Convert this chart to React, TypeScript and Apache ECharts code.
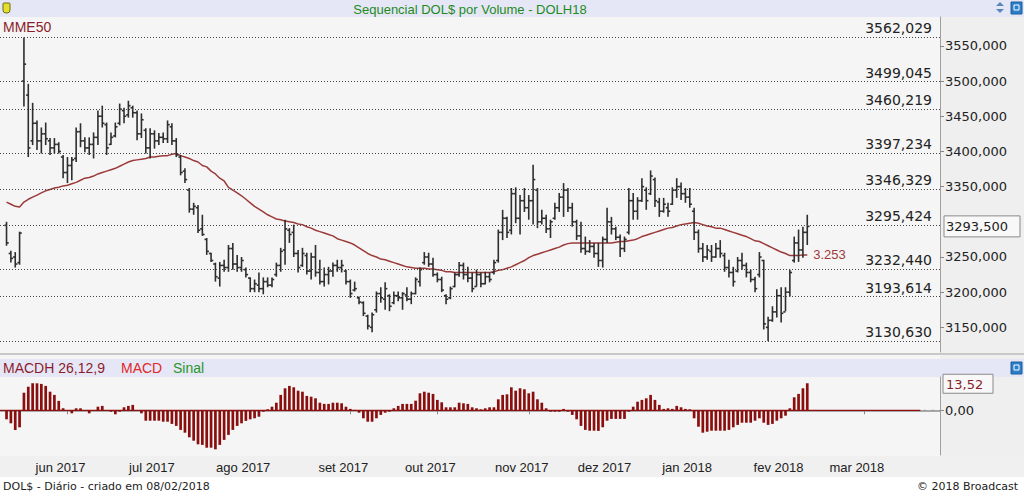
import React, { useEffect, useRef } from 'react';
import * as echarts from 'echarts';

// ---------- data (i = 0 is 12 May 2017, last bar 8 Feb 2018) ----------
const highs = [
  3300, 3259, 3257, 3286, 3562.029, 3496, 3469, 3444, 3434, 3441,
  3419, 3419, 3413, 3395, 3392, 3392, 3434, 3440, 3420, 3420,
  3427, 3458, 3465, 3441, 3427, 3441, 3468, 3462, 3472, 3465,
  3458, 3454, 3433, 3433, 3430, 3426, 3427, 3444, 3440, 3419,
  3395, 3376, 3348, 3327, 3324, 3310, 3277, 3256, 3242, 3243,
  3246, 3267, 3270, 3253, 3250, 3235, 3221, 3218, 3228, 3221,
  3221, 3221, 3242, 3263, 3303, 3291, 3296, 3260, 3263, 3256,
  3256, 3267, 3246, 3235, 3236, 3242, 3246, 3246, 3232, 3218,
  3215, 3194, 3187, 3168, 3171, 3201, 3207, 3214, 3197, 3201,
  3201, 3200, 3207, 3201, 3221, 3235, 3257, 3256, 3249, 3228,
  3222, 3197, 3208, 3228, 3243, 3242, 3236, 3228, 3232, 3228,
  3229, 3228, 3246, 3289, 3317, 3307, 3348, 3349, 3338, 3348,
  3338, 3381, 3348, 3317, 3310, 3303, 3327, 3341, 3355, 3348,
  3327, 3303, 3300, 3279, 3274, 3270, 3270, 3279, 3320, 3307,
  3293, 3282, 3279, 3348, 3341, 3335, 3362, 3349, 3373, 3363,
  3334, 3334, 3327, 3349, 3362, 3356, 3348, 3348, 3320, 3289,
  3270, 3267, 3267, 3270, 3274, 3256, 3246, 3236, 3250, 3256,
  3242, 3232, 3222, 3257, 3246, 3165, 3180, 3204, 3207, 3207,
  3232, 3279, 3289, 3293, 3310,
];
const lows = [
  3266, 3242, 3235, 3239, 3464, 3392, 3409, 3402, 3397, 3409,
  3395, 3397, 3397, 3362, 3355, 3359, 3385, 3406, 3399, 3395,
  3390, 3409, 3434, 3395, 3409, 3420, 3437, 3440, 3448, 3448,
  3416, 3419, 3397, 3390, 3404, 3409, 3412, 3412, 3409, 3392,
  3366, 3355, 3313, 3310, 3284, 3280, 3253, 3243, 3215, 3208,
  3229, 3229, 3232, 3229, 3229, 3221, 3200, 3200, 3200, 3197,
  3207, 3207, 3222, 3229, 3239, 3270, 3250, 3228, 3236, 3225,
  3218, 3222, 3211, 3208, 3211, 3222, 3229, 3228, 3211, 3192,
  3201, 3183, 3166, 3147, 3143, 3171, 3185, 3175, 3173, 3183,
  3187, 3175, 3187, 3183, 3197, 3208, 3239, 3236, 3222, 3214,
  3200, 3183, 3190, 3207, 3222, 3218, 3214, 3200, 3208, 3207,
  3211, 3214, 3225, 3242, 3274, 3277, 3282, 3298, 3282, 3314,
  3303, 3296, 3291, 3296, 3284, 3277, 3303, 3314, 3307, 3314,
  3293, 3274, 3256, 3253, 3256, 3249, 3236, 3235, 3270, 3282,
  3274, 3250, 3257, 3282, 3303, 3303, 3328, 3317, 3338, 3321,
  3307, 3313, 3307, 3324, 3334, 3331, 3327, 3320, 3274, 3256,
  3243, 3246, 3243, 3249, 3249, 3229, 3221, 3208, 3228, 3232,
  3221, 3214, 3200, 3221, 3147, 3130.63, 3158, 3164, 3157, 3173,
  3194, 3242, 3243, 3249, 3267,
];
const opens = [
  3295, 3255, 3250, 3242, 3500, 3480, 3415, 3440, 3415, 3425,
  3415, 3405, 3410, 3392, 3370, 3380, 3390, 3428, 3415, 3405,
  3410, 3420, 3450, 3438, 3410, 3422, 3440, 3458, 3452, 3462,
  3455, 3425, 3430, 3405, 3425, 3415, 3420, 3418, 3435, 3415,
  3392, 3372, 3345, 3318, 3320, 3290, 3275, 3255, 3240, 3220,
  3238, 3235, 3262, 3240, 3235, 3232, 3220, 3205, 3210, 3205,
  3215, 3210, 3225, 3238, 3260, 3288, 3285, 3255, 3238, 3252,
  3230, 3250, 3228, 3215, 3225, 3230, 3238, 3235, 3230, 3215,
  3203, 3192, 3185, 3166, 3150, 3175, 3198, 3190, 3195, 3185,
  3195, 3192, 3196, 3190, 3198, 3215, 3242, 3250, 3240, 3225,
  3218, 3195, 3192, 3208, 3225, 3238, 3225, 3220, 3208, 3225,
  3212, 3222, 3228, 3245, 3285, 3305, 3288, 3340, 3305, 3330,
  3320, 3330, 3345, 3300, 3305, 3290, 3305, 3320, 3335, 3345,
  3320, 3300, 3280, 3262, 3258, 3265, 3255, 3245, 3275, 3300,
  3290, 3278, 3262, 3285, 3330, 3315, 3330, 3345, 3340, 3360,
  3328, 3315, 3320, 3325, 3345, 3350, 3340, 3335, 3315, 3285,
  3262, 3250, 3258, 3250, 3262, 3252, 3235, 3228, 3230, 3245,
  3238, 3228, 3218, 3225, 3245, 3150, 3160, 3172, 3195, 3172,
  3200, 3245, 3270, 3260, 3285,
];
const closes = [
  3270, 3248, 3240, 3284, 3524, 3405, 3440, 3415, 3425, 3418,
  3405, 3410, 3400, 3370, 3380, 3388, 3428, 3415, 3405, 3410,
  3420, 3450, 3440, 3405, 3420, 3435, 3460, 3450, 3465, 3455,
  3425, 3445, 3405, 3425, 3415, 3420, 3418, 3438, 3415, 3395,
  3370, 3360, 3318, 3322, 3288, 3282, 3258, 3245, 3222, 3238,
  3235, 3262, 3240, 3235, 3245, 3225, 3205, 3212, 3205, 3215,
  3210, 3218, 3238, 3258, 3290, 3282, 3255, 3235, 3255, 3230,
  3250, 3228, 3215, 3225, 3230, 3238, 3235, 3238, 3215, 3198,
  3205, 3186, 3170, 3152, 3168, 3198, 3192, 3205, 3180, 3195,
  3192, 3198, 3190, 3198, 3218, 3232, 3250, 3240, 3225, 3218,
  3203, 3190, 3205, 3225, 3238, 3225, 3220, 3205, 3225, 3212,
  3222, 3218, 3242, 3285, 3305, 3285, 3340, 3305, 3330, 3320,
  3330, 3360, 3300, 3305, 3290, 3300, 3320, 3335, 3345, 3320,
  3300, 3280, 3262, 3258, 3265, 3255, 3245, 3275, 3300, 3290,
  3278, 3262, 3275, 3330, 3315, 3330, 3350, 3330, 3365, 3330,
  3315, 3325, 3315, 3345, 3350, 3340, 3335, 3325, 3285, 3262,
  3250, 3260, 3250, 3262, 3255, 3235, 3228, 3215, 3245, 3238,
  3228, 3218, 3205, 3250, 3155, 3160, 3172, 3195, 3170, 3200,
  3228, 3270, 3260, 3285, 3293.5,
];
const mme50 = [
  3328, 3325, 3322, 3321, 3328, 3332, 3335, 3338, 3341, 3344,
  3346, 3348, 3349, 3351, 3352, 3354, 3356, 3359, 3362, 3363,
  3365, 3368, 3370, 3372, 3374, 3376, 3379, 3382, 3385, 3387,
  3388, 3389, 3390, 3392, 3392, 3393, 3394, 3394, 3396, 3397,
  3394, 3392, 3390, 3387, 3385, 3380, 3378, 3372, 3368, 3362,
  3358, 3349, 3345, 3341, 3337, 3332, 3327, 3322, 3318, 3314,
  3310, 3307, 3304, 3303, 3301, 3300, 3299, 3297, 3296, 3293,
  3291, 3288, 3286, 3284, 3282, 3280, 3276, 3274, 3272, 3270,
  3267, 3263, 3259, 3255, 3252, 3250, 3247, 3246, 3244, 3242,
  3240, 3238, 3236, 3235, 3234, 3234, 3234, 3233, 3233, 3232,
  3231, 3229, 3229, 3228, 3228, 3228, 3228, 3228, 3228, 3228,
  3228, 3228, 3229, 3231, 3232, 3234, 3236, 3239, 3242, 3245,
  3249, 3252, 3254, 3256, 3258, 3260, 3262, 3264, 3267, 3269,
  3270, 3270, 3270, 3270, 3270, 3270, 3270, 3270, 3270, 3270,
  3271, 3272, 3272, 3273, 3274, 3276, 3279, 3281, 3283, 3285,
  3287, 3289, 3291, 3292, 3294, 3296, 3297, 3298, 3299, 3298,
  3296, 3294, 3293, 3291, 3291, 3289, 3287, 3285, 3283, 3281,
  3279, 3276, 3273, 3272, 3269, 3266, 3263, 3260, 3257, 3255,
  3252, 3252, 3252, 3253, 3253,
];
const macdh = [
  -4.5, -6.5, -9.8, -8.5, 8.8, 11.8, 13.5, 13.5, 13.2, 12.2,
  9.3, 7.7, 4.7, 1, -0.3, -1.5, 1, 1, -0.3, -1.5,
  -0.3, 1.8, 2.2, -0.3, -0.7, -2, -0.7, 1.5, 2.2, 2.7,
  -0.3, -1.5, -5.2, -5.2, -5.2, -5.2, -5.7, -5.7, -6.8, -7.8,
  -9.8, -11.2, -13.5, -15.2, -17, -17.3, -18.7, -18.7, -19.5, -17.3,
  -14.8, -12.3, -9.8, -7.8, -6.5, -5.3, -4.5, -4, -3.2, -0.7,
  0.5, 1.8, 3.8, 7.7, 11, 12.2, 11.5, 9.8, 9.3, 7.2,
  6.8, 6, 3.8, 3.2, 3.2, 3.8, 3.8, 3.5, 1.8, 0.7,
  0.2, -1.2, -4, -5.7, -5.7, -4, -2.3, -1.2, -0.7, 1,
  2.2, 3.2, 3.2, 3.2, 4.8, 8.5, 9.3, 8.8, 8.2, 5.2,
  4, 1.5, 1.5, 1.5, 3.8, 3.5, 3.2, 1.5, 1, 0.5,
  1, 1.5, 1.5, 5.5, 7.7, 8, 11.5, 9.8, 11, 10.5,
  8.5, 9.3, 5.5, 3.8, 1, -0.7, -0.7, -0.7, 0.7, -0.7,
  -2.3, -4.5, -7.8, -9.8, -10.2, -10.2, -10.3, -8.5, -5.2, -4.3,
  -4.3, -4.3, -4.3, -0.7, 1.8, 4.3, 5.2, 6, 7.7, 5.2,
  2.7, 0.7, 1, 0.7, 2.2, 1.5, 0.7, 0.5, -4, -8.2,
  -11.2, -10.7, -10.2, -10.2, -10.2, -10.2, -9.8, -8.5, -7.3, -6.2,
  -6.2, -6.2, -5.2, -4, -6.2, -7.3, -6.8, -5.2, -4, -2.7,
  1, 6.5, 8.2, 11, 13.52,
];
const fibLevels = [3562.029, 3499.045, 3460.219, 3397.234, 3346.329, 3295.424, 3232.44, 3193.614, 3130.63];
const priceTicks = [3150, 3200, 3250, 3350, 3400, 3450, 3500, 3550];
const macdTicks = [0];
const lastClose = 3293.5;
const lastMacd = 13.52;
const mmeLabel = '3.253';

// trading calendar (B3) used for the category axis
const firstTradingDay = '2017-05-12';
const axisDayCount = 215;
const holidays = [
  '2017-06-15', '2017-09-07', '2017-10-12', '2017-11-02', '2017-11-15', '2017-11-20',
  '2017-12-25', '2017-12-29', '2018-01-01', '2018-01-25', '2018-02-12', '2018-02-13',
];
const monthNames = ['jan', 'fev', 'mar', 'abr', 'mai', 'jun', 'jul', 'ago', 'set', 'out', 'nov', 'dez'];

function buildDays(): string[] {
  const out: string[] = [];
  const d = new Date(firstTradingDay + 'T12:00:00Z');
  while (out.length < axisDayCount) {
    const wd = d.getUTCDay();
    const s = d.toISOString().slice(0, 10);
    if (wd !== 0 && wd !== 6 && holidays.indexOf(s) < 0) out.push(s);
    d.setUTCDate(d.getUTCDate() + 1);
  }
  return out;
}

const fmt3 = (v: number) => v.toFixed(3).replace('.', ',');
const fmt2 = (v: number) => v.toFixed(2).replace('.', ',');

export default function App() {
  const ref = useRef<HTMLDivElement>(null);

  useEffect(() => {
    document.body.style.margin = '0';
    const el = ref.current;
    if (!el) return;
    const days = buildDays();
    const categories = ['', ...days];
    const monthStarts = new Set<number>();
    for (let k = 2; k < categories.length; k++) {
      if (categories[k].slice(5, 7) !== categories[k - 1].slice(5, 7)) monthStarts.add(k);
    }
    const monthLabel = (v: string) => {
      if (!v) return '';
      return monthNames[parseInt(v.slice(5, 7), 10) - 1] + ' ' + v.slice(0, 4);
    };

    const ohlcData = highs.map((h, i) => [i + 1, opens[i], h, lows[i], closes[i]]);
    const mmeData = [null as any, ...mme50];
    const macdData = [null as any, ...macdh];

    const chart = echarts.init(el, null, { renderer: 'svg' });
    const option: any = {
      animation: false,
      backgroundColor: 'transparent',
      grid: [
        { left: 0, right: 84, top: 17, height: 335 },
        { left: 0, right: 84, top: 377, height: 78 },
      ],
      xAxis: [
        { type: 'category', gridIndex: 0, data: categories, boundaryGap: true, show: false },
        {
          type: 'category', gridIndex: 1, data: categories, boundaryGap: true,
          axisLine: { show: true, lineStyle: { color: '#a8a8a8', width: 2 } },
          axisTick: {
            show: true, alignWithLabel: true, length: 4,
            interval: (i: number) => monthStarts.has(i),
            lineStyle: { color: '#888' },
          },
          axisLabel: {
            interval: (i: number) => monthStarts.has(i),
            formatter: (v: string) => monthLabel(v),
            color: '#222', fontFamily: 'Liberation Sans', fontSize: 13, margin: 6,
            padding: [0, 14, 0, 0],
          },
          splitLine: { show: false },
        },
      ],
      yAxis: [
        {
          type: 'value', gridIndex: 0, position: 'right', min: 3115, max: 3591, scale: true,
          axisLine: { show: true, lineStyle: { color: '#a0a0a0', width: 1 } },
          axisTick: { show: true, customValues: priceTicks, length: 4, lineStyle: { color: '#888' } },
          axisLabel: {
            customValues: priceTicks, formatter: (v: number) => fmt3(v),
            color: '#222', fontFamily: 'DejaVu Sans', fontSize: 13, margin: 5,
          },
          splitLine: { show: false },
        },
        {
          type: 'value', gridIndex: 1, position: 'right', min: -22.35, max: 16.65,
          axisLine: { show: true, lineStyle: { color: '#a0a0a0', width: 1 } },
          axisTick: { show: true, customValues: macdTicks, length: 4, lineStyle: { color: '#888' } },
          axisLabel: {
            customValues: macdTicks, formatter: (v: number) => fmt2(v),
            color: '#222', fontFamily: 'DejaVu Sans', fontSize: 13, margin: 5,
          },
          splitLine: { show: false },
        },
      ],
      series: [
        {
          type: 'custom', name: 'DOLH18', xAxisIndex: 0, yAxisIndex: 0,
          data: ohlcData,
          encode: { x: 0, y: [1, 2, 3, 4] },
          z: 4,
          renderItem: (params: any, api: any) => {
            const k = api.value(0);
            const top = api.coord([k, api.value(2)]);
            const x = top[0];
            const yl = api.coord([k, api.value(3)])[1];
            const yo = api.coord([k, api.value(1)])[1];
            const yc = api.coord([k, api.value(4)])[1];
            const style = { stroke: '#2e2e2e', lineWidth: 1.6 };
            return {
              type: 'group',
              children: [
                { type: 'line', shape: { x1: x, y1: top[1], x2: x, y2: yl }, style },
                { type: 'line', shape: { x1: x - 2.2, y1: yo, x2: x, y2: yo }, style },
                { type: 'line', shape: { x1: x, y1: yc, x2: x + 2.2, y2: yc }, style },
              ],
            };
          },
          markLine: {
            silent: true,
            symbol: 'none',
            precision: 3,
            lineStyle: { type: [1, 2], color: '#444', width: 1 },
            label: {
              show: true,
              position: 'insideEndTop',
              distance: [8, 2],
              formatter: (p: any) => fmt3(fibLevels[p.dataIndex]),
              color: '#222', fontFamily: 'DejaVu Sans', fontSize: 14,
            },
            data: fibLevels.map((v) => ({ yAxis: v })),
          },
        },
        {
          type: 'line', name: 'MME50', xAxisIndex: 0, yAxisIndex: 0,
          data: mmeData, symbol: 'none', showSymbol: false, z: 3,
          lineStyle: { color: '#9c3a3a', width: 1.5 },
          endLabel: {
            show: true, formatter: mmeLabel, distance: 6,
            color: '#a03a3a', fontFamily: 'Liberation Sans', fontSize: 13,
          },
        },
        {
          type: 'bar', name: 'MACDH', xAxisIndex: 1, yAxisIndex: 1,
          data: macdData, barWidth: 2.7,
          itemStyle: { color: '#8a0e0e' },
        },
      ],
    };
    chart.setOption(option);

    const pY = chart.convertToPixel({ yAxisIndex: 0 }, lastClose) as number;
    const mY = chart.convertToPixel({ yAxisIndex: 1 }, lastMacd) as number;
    const zY = chart.convertToPixel({ yAxisIndex: 1 }, 0) as number;
    const zEndX = chart.convertToPixel({ xAxisIndex: 1 }, 211) as number;

    const F = (size: number, fam = 'Liberation Sans') => `${size}px "${fam}"`;
    const band = '#e6e7f6';
    chart.setOption({
      graphic: [
        { type: 'rect', z: -10, silent: true, shape: { x: 0, y: 0, width: 1024, height: 17 }, style: { fill: band } },
        { type: 'rect', z: -10, silent: true, shape: { x: 940, y: 17, width: 84, height: 342 }, style: { fill: '#efefef' } },
        { type: 'rect', z: -10, silent: true, shape: { x: 0, y: 353, width: 1024, height: 2 }, style: { fill: '#c8c8c8' } },
        { type: 'rect', z: -10, silent: true, shape: { x: 0, y: 359, width: 1024, height: 18 }, style: { fill: band } },
        { type: 'rect', z: -10, silent: true, shape: { x: 940, y: 377, width: 84, height: 79 }, style: { fill: '#efefef' } },
        { type: 'rect', z: -10, silent: true, shape: { x: 0, y: 456, width: 1024, height: 21 }, style: { fill: '#f0f0f0' } },
        { type: 'rect', z: -10, silent: true, shape: { x: 0, y: 477, width: 1024, height: 16 }, style: { fill: '#ffffff' } },
        // title + icons
        { type: 'text', x: 470, y: 9, style: { text: 'Sequencial DOL$ por Volume - DOLH18', fill: '#1e8a1e', font: F(13), align: 'center', verticalAlign: 'middle' } },
        { type: 'rect', shape: { x: 3, y: 3, width: 7, height: 10, r: [1, 1, 3, 3] }, style: { fill: '#e6e02a', stroke: '#6a6a20', lineWidth: 1 } },
        { type: 'polygon', shape: { points: [[996, 6], [1000, 2], [1004, 6]] }, style: { fill: '#5a86c0' } },
        { type: 'polygon', shape: { points: [[996, 9], [1000, 13], [1004, 9]] }, style: { fill: '#5a86c0' } },
        { type: 'rect', shape: { x: 1011, y: 2, width: 11, height: 12 }, style: { fill: '#2a7fc8', stroke: '#1b5f9a', lineWidth: 1 } },
        { type: 'rect', shape: { x: 1014, y: 5, width: 5, height: 5 }, style: { fill: 'none', stroke: '#ffffff', lineWidth: 1 } },
        { type: 'rect', shape: { x: 1011, y: 362, width: 11, height: 12 }, style: { fill: '#2a7fc8', stroke: '#1b5f9a', lineWidth: 1 } },
        { type: 'rect', shape: { x: 1014, y: 365, width: 5, height: 5 }, style: { fill: 'none', stroke: '#ffffff', lineWidth: 1 } },
        // indicator names
        { type: 'text', x: 3, y: 27, style: { text: 'MME50', fill: '#8b1c2c', font: F(14), align: 'left', verticalAlign: 'middle' } },
        { type: 'text', x: 3, y: 368, style: { text: 'MACDH 26,12,9', fill: '#8b1c2c', font: F(14), align: 'left', verticalAlign: 'middle' } },
        { type: 'text', x: 121, y: 368, style: { text: 'MACD', fill: '#e02828', font: F(14), align: 'left', verticalAlign: 'middle' } },
        { type: 'text', x: 173, y: 368, style: { text: 'Sinal', fill: '#2a962a', font: F(14), align: 'left', verticalAlign: 'middle' } },
        // zero line of MACD
        { type: 'line', z: 5, shape: { x1: 0, y1: zY, x2: zEndX, y2: zY }, style: { stroke: '#8e1010', lineWidth: 1.2 } },
        { type: 'line', z: 5, shape: { x1: zEndX + 3, y1: zY, x2: 940, y2: zY }, style: { stroke: '#999', lineWidth: 1, lineDash: [3, 5] } },
        // last value boxes
        { type: 'rect', z: 50, shape: { x: 944, y: pY - 10.5, width: 76, height: 21 }, style: { fill: '#f8f8f8', stroke: '#8a8a8a', lineWidth: 1 } },
        { type: 'text', z: 51, x: 946, y: pY + 0.5, style: { text: fmt3(lastClose), fill: '#222', font: F(13, 'DejaVu Sans'), align: 'left', verticalAlign: 'middle' } },
        { type: 'rect', z: 50, shape: { x: 943, y: mY - 9, width: 50, height: 19 }, style: { fill: '#f8f8f8', stroke: '#8a8a8a', lineWidth: 1 } },
        { type: 'text', z: 51, x: 946, y: mY + 1, style: { text: fmt2(lastMacd), fill: '#8b1c2c', font: F(13, 'DejaVu Sans'), align: 'left', verticalAlign: 'middle' } },
        // footer
        { type: 'text', x: 3, y: 486, style: { text: 'DOL$ - Diário - criado em 08/02/2018', fill: '#222', font: F(11, 'DejaVu Sans'), align: 'left', verticalAlign: 'middle' } },
        { type: 'text', x: 1018, y: 486, style: { text: '© 2018 Broadcast', fill: '#222', font: F(11, 'DejaVu Sans'), align: 'right', verticalAlign: 'middle' } },
      ],
    });

    return () => {
      chart.dispose();
    };
  }, []);

  return (
    <div
      ref={ref}
      style={{ position: 'absolute', left: 0, top: 0, width: 1024, height: 493, background: '#f5f5f5' }}
    />
  );
}
